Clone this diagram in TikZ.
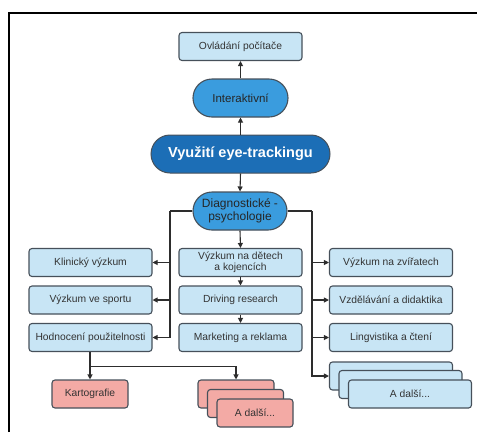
\documentclass[tikz,border=0pt]{standalone}
\usepackage{fontspec}
\setmainfont{Liberation Sans}
\usetikzlibrary{arrows.meta}
\definecolor{lightbox}{RGB}{200,229,245}
\definecolor{midblue}{RGB}{58,156,222}
\definecolor{darkblue}{RGB}{28,110,182}
\definecolor{redbox}{RGB}{243,170,165}
\definecolor{edgegray}{RGB}{70,80,90}
\definecolor{linegray}{RGB}{45,45,45}
\tikzset{
  every node/.style={font=\fontsize{10.3}{11.5}\selectfont, text=black!80},
  box/.style={draw=edgegray, line width=1.1pt, fill=lightbox, rounded corners=3pt,
    minimum width=123pt, minimum height=28pt, inner sep=0pt, align=center},
  redb/.style={box, fill=redbox, minimum width=76pt},
  stad/.style={draw=edgegray, line width=1.1pt, fill=midblue, rounded corners=19pt,
    minimum width=95pt, minimum height=38pt, inner sep=0pt, align=center,
    font=\fontsize{11.5}{12.5}\selectfont, text=black!85},
  mainst/.style={draw=edgegray, line width=1pt, fill=darkblue, rounded corners=19pt,
    minimum width=179pt, minimum height=38pt, inner sep=0pt, align=center,
    font=\fontsize{14.5}{16}\selectfont\bfseries, text=white},
  conn/.style={draw=linegray, line width=1.1pt},
  arr/.style={conn, -{Triangle[length=5pt,width=5pt]}},
}
\begin{document}
\begin{tikzpicture}[x=1pt,y=-1pt]
\useasboundingbox (0,0) rectangle (477,432);
\draw[line width=2pt, black] (9,432) -- (9,13) -- (477,13);

% top
\node[box] (ovl) at (240.5,46.5) {Ovládání počítače};
\node[stad] (int) at (240.5,98) {Interaktivní};
\node[mainst] (vyu) at (240.5,154) {Využití eye-trackingu};
\node[stad, minimum width=94pt, font=\fontsize{12}{13.5}\selectfont] (diag) at (240,211) {Diagnostické -\\psychologie};

% left column
\node[box] (kli) at (90.5,262.5) {Klinický výzkum};
\node[box] (spo) at (90.5,300) {Výzkum ve sportu};
\node[box] (hod) at (90.5,337.5) {Hodnocení použitelnosti};

% middle column
\node[box] (det) at (240.5,262.5) {Výzkum na dětech\\a kojencích};
\node[box] (drv) at (240.5,300) {Driving research};
\node[box] (mkt) at (240.5,337.5) {Marketing a reklama};

% right column
\node[box] (zvi) at (391,262.5) {Výzkum na zvířatech};
\node[box] (vzd) at (391,300) {Vzdělávání a didaktika};
\node[box] (lin) at (391,337.5) {Lingvistika a čtení};
\node[box] (bs1) at (391,376) {};
\node[box] (bs2) at (400.5,384.5) {};
\node[box] (bs3) at (410,394) {A další...};

% bottom red
\node[redb] (kar) at (90,394) {Kartografie};
\node[redb] (rs1) at (236,394) {};
\node[redb] (rs2) at (245.5,403.5) {};
\node[redb] (rs3) at (255,413) {A další...};

% connectors
\draw[arr] (vyu.north) -- (int.south);
\draw[arr] (int.north) -- (ovl.south);
\draw[arr] (vyu.south) -- (diag.north);
\draw[arr] (diag.south) -- (det.north);
\draw[arr] (det.south) -- (drv.north);
\draw[arr] (drv.south) -- (mkt.north);

\coordinate (lj) at (170,211);
\draw[conn] (diag.west) -- (lj);
\draw[arr] (lj) |- (kli.east);
\draw[arr] (lj) |- (spo.east);
\draw[arr] (lj) |- (hod.east);

\coordinate (rj) at (312,211);
\draw[conn] (diag.east) -- (rj);
\draw[arr] (rj) |- (zvi.west);
\draw[arr] (rj) |- (vzd.west);
\draw[arr] (rj) |- (lin.west);
\draw[arr] (rj) |- (bs1.west);

\coordinate (bj) at (90,366.5);
\draw[arr] (hod.south -| kar.north) -- (kar.north);
\draw[arr] (bj) -| (rs1.north);
\end{tikzpicture}
\end{document}
